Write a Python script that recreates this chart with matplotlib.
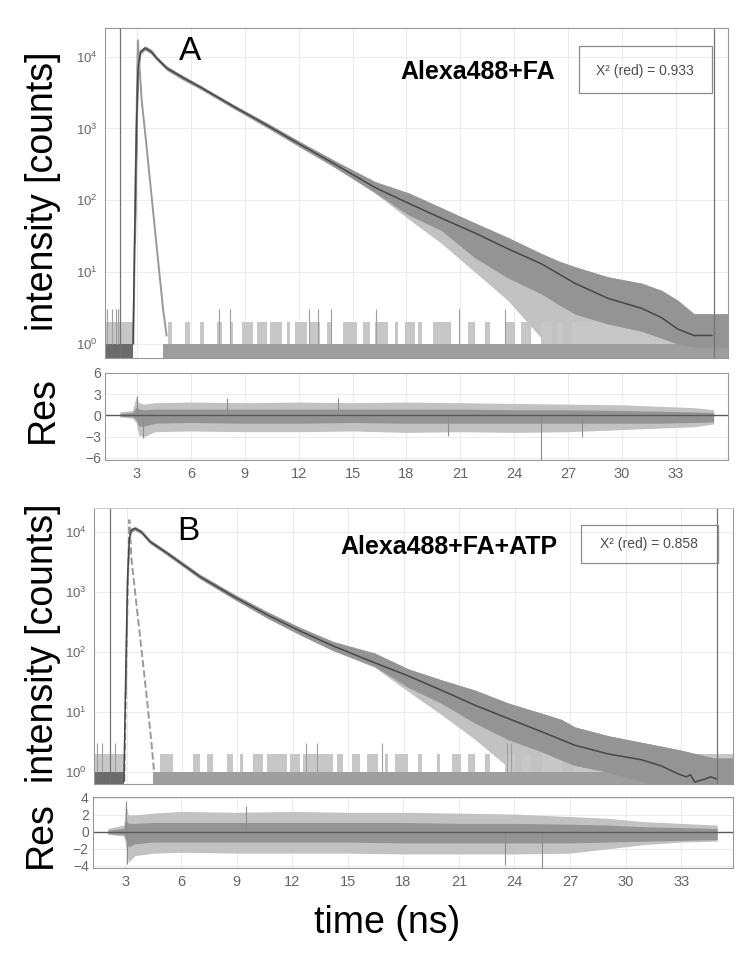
import matplotlib
matplotlib.use('Agg')
import matplotlib.pyplot as plt
from matplotlib.patches import Rectangle

plt.rcParams['font.family'] = ['Liberation Sans', 'DejaVu Sans']
plt.rcParams['mathtext.fontset'] = 'custom'
plt.rcParams['mathtext.rm'] = 'Liberation Sans'
plt.rcParams['mathtext.it'] = 'Liberation Sans'

# ---- data (time in ns, intensity in counts) ----
x_ticks = [3, 6, 9, 12, 15, 18, 21, 24, 27, 30, 33]

# panel A : Alexa488+FA
fit_t_a = [2.78, 2.88, 2.97, 3.06, 3.2, 3.45, 3.8, 4.1, 4.67, 5.56, 6.5, 8.35, 10.2, 12.07, 13.9,
           16.25, 18.1, 19.95, 21.8, 23.65, 25.5, 27.4, 29.2, 31.1, 32.2, 33.1, 34.0, 35.0]
fit_a = [1, 40, 1000, 7000, 11700, 13200, 11700, 9500, 6900, 5100, 3800, 2040, 1120, 600, 330,
         150, 91, 56, 35, 21, 13, 6.9, 4.3, 3.1, 2.3, 1.6, 1.3, 1.3]
data_t_a = [2.9, 3.06, 3.2, 3.45, 3.8, 4.1, 4.67, 5.56, 6.5, 8.35, 10.2, 12.07, 13.9, 16.25, 18.1,
            19.95, 21.8, 23.65, 25.5, 26.5, 27.4, 29.2, 31.1, 32.2, 33.1, 34.0, 35.9]
data_hi_a = [60, 8000, 12500, 14000, 12500, 10000, 7300, 5400, 4000, 2150, 1200, 650, 365, 180, 126,
             78, 48, 30, 18, 14, 11.7, 8.5, 6.9, 5.5, 4.0, 2.6, 2.6]
data_lo_a = [25, 6000, 11000, 12500, 11000, 9000, 6500, 4800, 3600, 1930, 1050, 555, 300, 129, 63,
             38, 16, 8.3, 5, 3.5, 2.6, 1.9, 1.5, 1.2, 1.0, 0.9, 0.9]
# lowest points of the scatter (zero counts fall below the axis)
data_min_a = [25, 6000, 11000, 12500, 11000, 9000, 6500, 4800, 3600, 1930, 1050, 555, 300, 125, 55,
              25, 10, 4, 1.2, 0.3, 0.3, 0.3, 0.3, 0.3, 0.3, 0.3, 0.3]
irf_t_a = [2.80, 2.93, 3.05, 3.26, 3.54, 3.91, 4.28, 4.46, 4.65]
irf_a = [1, 300, 17000, 2500, 540, 65, 8, 2.9, 1.3]
pre_a = (1.22, 2.78)
post_a = (4.45, 35.9)
ones_a = [(1.22, 2.78), (4.7, 4.95), (5.67, 5.95), (6.5, 6.73), (7.45, 7.73), (8.17, 8.35),
          (8.84, 9.46), (9.68, 10.23), (10.4, 11.1), (11.35, 11.5), (11.8, 12.46), (12.6, 13.2),
          (13.6, 13.85), (14.46, 15.24), (15.6, 15.97), (16.25, 16.97), (17.36, 17.53),
          (17.9, 18.47), (18.64, 18.86), (19.47, 20.5), (21.42, 21.8), (22.37, 22.64),
          (23.48, 24.03), (24.4, 24.96), (25.5, 26.1), (26.37, 26.7), (27.2, 35.9)]
threes_a = [1.33, 1.61, 1.83, 1.94, 7.55, 8.2, 12.6, 13.1, 13.8, 16.3, 20.9, 23.5]
marks_a = [2.05, 35.1]

res_t_a = [2.05, 2.75, 2.95, 3.1, 3.4, 4.0, 6, 9, 12, 15, 18, 21, 24, 27, 30, 32, 34, 35.1]
res_hi_a = [0.5, 0.7, 2.6, 1.8, 1.6, 1.8, 1.9, 1.8, 1.9, 1.8, 1.9, 1.8, 1.7, 1.6, 1.5, 1.3, 1.1, 0.8]
res_lo_a = [-0.2, -0.4, -1.0, -2.8, -3.0, -2.3, -2.2, -2.3, -2.3, -2.2, -2.4, -2.3, -2.4, -2.3,
            -2.0, -1.8, -1.6, -1.2]
core_hi_a = [0.3, 0.4, 1.2, 0.9, 0.8, 0.9, 0.9, 0.9, 0.9, 0.9, 0.9, 0.9, 0.8, 0.8, 0.7, 0.6, 0.5, 0.4]
core_lo_a = [-0.1, -0.2, -0.6, -1.5, -1.5, -1.1, -1.0, -1.1, -1.1, -1.0, -1.1, -1.1, -1.1, -1.1,
             -1.1, -1.1, -1.0, -0.9]
res_spk_t_a = [3.0, 3.35, 8.0, 14.2, 20.3, 25.5, 27.8]
res_spk_a = [2.8, -3.2, 2.4, 2.5, -2.9, -6.3, -3.0]

# panel B : Alexa488+FA+ATP
fit_t_b = [2.86, 2.95, 3.05, 3.15, 3.25, 3.46, 3.8, 4.27, 5.17, 6.97, 8.77, 10.58, 12.38, 14.18,
           16.43, 18.23, 20.04, 21.84, 23.64, 25.44, 27.24, 29.04, 30.85, 31.93, 32.83, 33.28,
           33.5, 33.73, 34.27, 34.6, 34.93]
fit_b = [0.7, 32, 1600, 7900, 10700, 11500, 10000, 6900, 4500, 1800, 850, 420, 224, 126,
         66, 40, 23, 13, 7.8, 4.7, 2.8, 2.0, 1.6, 1.26, 0.93, 0.83, 0.9, 0.68, 0.76, 0.83, 0.76]
data_t_b = [2.95, 3.05, 3.15, 3.25, 3.46, 3.8, 4.27, 5.17, 6.97, 8.77, 10.58, 12.38, 14.18, 16.43,
            18.23, 20.04, 21.84, 23.64, 25.44, 26.5, 27.24, 29.04, 30.85, 32.7, 34.8, 35.8]
data_hi_b = [45, 2000, 8500, 11500, 12200, 10700, 7400, 4800, 1950, 930, 470, 255, 148, 95,
             52, 34, 23, 14, 9.5, 7.5, 5.6, 4.0, 3.1, 2.4, 1.7, 1.7]
data_lo_b = [20, 1300, 7300, 10000, 10800, 9400, 6500, 4200, 1680, 780, 375, 195, 106, 58,
             26, 14, 6.6, 3.5, 2.2, 1.6, 1.3, 1.0, 0.7, 0.5, 0.5, 0.5]
data_min_b = [20, 1300, 7300, 10000, 10800, 9400, 6500, 4200, 1680, 780, 375, 195, 106, 55,
              22, 9, 3.5, 1.2, 0.3, 0.3, 0.3, 0.3, 0.3, 0.3, 0.3, 0.3]
irf_t_b = [2.88, 3.0, 3.15, 3.27, 3.37, 3.73, 4.09, 4.36, 4.49]
irf_b = [0.7, 100, 15800, 3500, 1800, 180, 18, 2.8, 1.0]
pre_b = (1.24, 2.86)
post_b = (4.45, 35.8)
ones_b = [(1.24, 2.86), (4.81, 5.51), (6.6, 6.97), (7.35, 7.68), (8.43, 8.77), (9.14, 9.3),
          (9.85, 10.4), (10.6, 11.68), (11.84, 12.38), (12.55, 14.18), (14.36, 14.7), (15.2, 15.6),
          (16.0, 16.6), (16.97, 17.13), (17.51, 18.23), (18.77, 18.99), (19.8, 19.95),
          (20.6, 21.1), (21.46, 21.84), (22.38, 22.65), (23.46, 24.0), (24.38, 24.9),
          (25.46, 26.54), (27.2, 35.8)]
threes_b = [1.39, 1.66, 2.38, 12.7, 13.3, 16.8, 23.55, 23.8]
marks_b = [2.11, 34.93]

res_t_b = [2.04, 2.9, 3.0, 3.15, 3.5, 4.5, 6, 9, 12, 15, 18, 21, 24, 27, 29, 31, 33, 34.95]
res_hi_b = [0.4, 0.8, 3.4, 2.0, 2.0, 2.2, 2.4, 2.3, 2.4, 2.3, 2.3, 2.2, 2.1, 1.8, 1.6, 1.2, 1.0, 0.8]
res_lo_b = [-0.3, -0.5, -1.5, -3.6, -2.8, -2.5, -2.4, -2.5, -2.5, -2.5, -2.6, -2.6, -2.6, -2.5,
            -2.0, -1.5, -1.2, -1.1]
core_hi_b = [0.2, 0.4, 1.5, 1.0, 1.0, 1.1, 1.1, 1.1, 1.1, 1.1, 1.1, 1.0, 1.0, 0.9, 0.8, 0.6, 0.5, 0.4]
core_lo_b = [-0.2, -0.3, -0.8, -1.8, -1.4, -1.2, -1.2, -1.2, -1.2, -1.2, -1.3, -1.3, -1.3, -1.3,
             -1.2, -1.1, -1.0, -0.9]
res_spk_t_b = [3.0, 3.05, 9.5, 23.5, 25.5]
res_spk_b = [3.6, -3.8, 3.0, -3.9, -4.5]

W, H = 750, 958
fig = plt.figure(figsize=(W / 100, H / 100), dpi=100)


def fbox(l, t, r, b):
    return [l / W, 1 - b / H, (r - l) / W, (b - t) / H]


def decay(ax, fit_t, fit, dt, dhi, dlo, dmin, it, irf, pre, post, ones, threes, marks,
          xlim, irf_ls):
    ax.set_yscale('log')
    ax.set_xlim(*xlim)
    ax.set_ylim(10 ** -0.2, 10 ** 4.4)
    ax.set_xticks(x_ticks)
    ax.set_xticklabels([])
    ax.set_yticks([1, 10, 100, 1000, 10000])
    ax.set_yticklabels(['$10^{%d}$' % i for i in range(5)])
    ax.minorticks_off()
    ax.tick_params(length=0, labelsize=9.5, labelcolor='0.4', pad=5)
    ax.grid(True, color='0.91', lw=0.6)
    ax.set_axisbelow(True)
    for s in ax.spines.values():
        s.set_color('0.6')
        s.set_linewidth(0.8)
    # sparse scatter of the measured decay
    ax.fill_between(dt, dmin, dhi, color='0.76', lw=0)
    # baseline counts (0, 1 and 2)
    ax.fill_between(pre, 0.1, 1, color='0.42', lw=0)
    ax.fill_between(post, 0.1, 1, color='0.62', lw=0)
    ax.broken_barh([(a, b - a) for a, b in ones], (1, 1), color='0.78', lw=0)
    ax.vlines(threes, 1, 3, color='0.62', lw=0.8)
    # dense band of the measured decay
    ax.fill_between(dt, dlo, dhi, color='0.58', lw=0.4)
    # instrument response
    ax.plot(it, irf, color='0.6', lw=1.4, ls=irf_ls)
    # fit
    ax.plot(fit_t, fit, color='0.28', lw=1.1)
    for m in marks:
        ax.axvline(m, color='0.45', lw=0.9)


def resid(ax, rt, hi, lo, chi, clo, st, sv, xlim, ylim, yt):
    ax.set_xlim(*xlim)
    ax.set_ylim(*ylim)
    ax.set_xticks(x_ticks)
    ax.set_yticks(yt)
    ax.tick_params(length=0, labelsize=10, labelcolor='0.4', pad=3)
    ax.tick_params(axis='x', labelsize=10.5, pad=5)
    ax.grid(True, color='0.91', lw=0.6)
    ax.set_axisbelow(True)
    for s in ax.spines.values():
        s.set_color('0.6')
        s.set_linewidth(0.8)
    ax.fill_between(rt, lo, hi, color='0.76', lw=0)
    ax.fill_between(rt, clo, chi, color='0.58', lw=0)
    ax.vlines(st, 0, sv, color='0.55', lw=0.8)
    ax.axhline(0, color='0.35', lw=1.0)


ax_a = fig.add_axes(fbox(105, 28, 728, 358))
res_a = fig.add_axes(fbox(105, 373, 728, 460))
ax_b = fig.add_axes(fbox(94, 508, 733, 784))
res_b = fig.add_axes(fbox(93, 797, 733, 868))

decay(ax_a, fit_t_a, fit_a, data_t_a, data_hi_a, data_lo_a, data_min_a, irf_t_a, irf_a,
      pre_a, post_a, ones_a, threes_a, marks_a, (1.22, 35.9), '-')
decay(ax_b, fit_t_b, fit_b, data_t_b, data_hi_b, data_lo_b, data_min_b, irf_t_b, irf_b,
      pre_b, post_b, ones_b, threes_b, marks_b, (1.24, 35.8), '--')
ax_b.spines['top'].set_color('0.8')

resid(res_a, res_t_a, res_hi_a, res_lo_a, core_hi_a, core_lo_a, res_spk_t_a, res_spk_a,
      (1.22, 35.9), (-6.3, 6), [-6, -3, 0, 3, 6])
resid(res_b, res_t_b, res_hi_b, res_lo_b, core_hi_b, core_lo_b, res_spk_t_b, res_spk_b,
      (1.24, 35.8), (-4.25, 4.1), [-4, -2, 0, 2, 4])


def ftext(x, y, s, **kw):
    fig.text(x / W, 1 - y / H, s, **kw)


ftext(43, 191, 'intensity [counts]', rotation=90, ha='center', va='center', fontsize=27)
ftext(43, 643, 'intensity [counts]', rotation=90, ha='center', va='center', fontsize=27)
ftext(43, 410, 'Res', rotation=90, ha='center', va='center', fontsize=27)
ftext(41, 835, 'Res', rotation=90, ha='center', va='center', fontsize=27)
ftext(387, 923, 'time (ns)', ha='center', va='center', fontsize=27)
ftext(190, 52, 'A', ha='center', va='center', fontsize=24)
ftext(188, 532, 'B', ha='center', va='center', fontsize=24)
ftext(400, 72, 'Alexa488+FA', ha='left', va='center', fontsize=18, fontweight='bold')
ftext(340, 547, 'Alexa488+FA+ATP', ha='left', va='center', fontsize=18, fontweight='bold')

for (l, t, r, b), (cx, cy), s in [((579, 46, 712, 93), (645, 71), 'X² (red) = 0.933'),
                                   ((581, 525, 718, 563), (649, 544), 'X² (red) = 0.858')]:
    fig.add_artist(Rectangle((l / W, 1 - b / H), (r - l) / W, (b - t) / H,
                             transform=fig.transFigure, fill=False, ec='0.55', lw=0.9))
    ftext(cx, cy, s, ha='center', va='center', fontsize=10, color='0.3')

fig.savefig('out.png', dpi=100, facecolor='white')
